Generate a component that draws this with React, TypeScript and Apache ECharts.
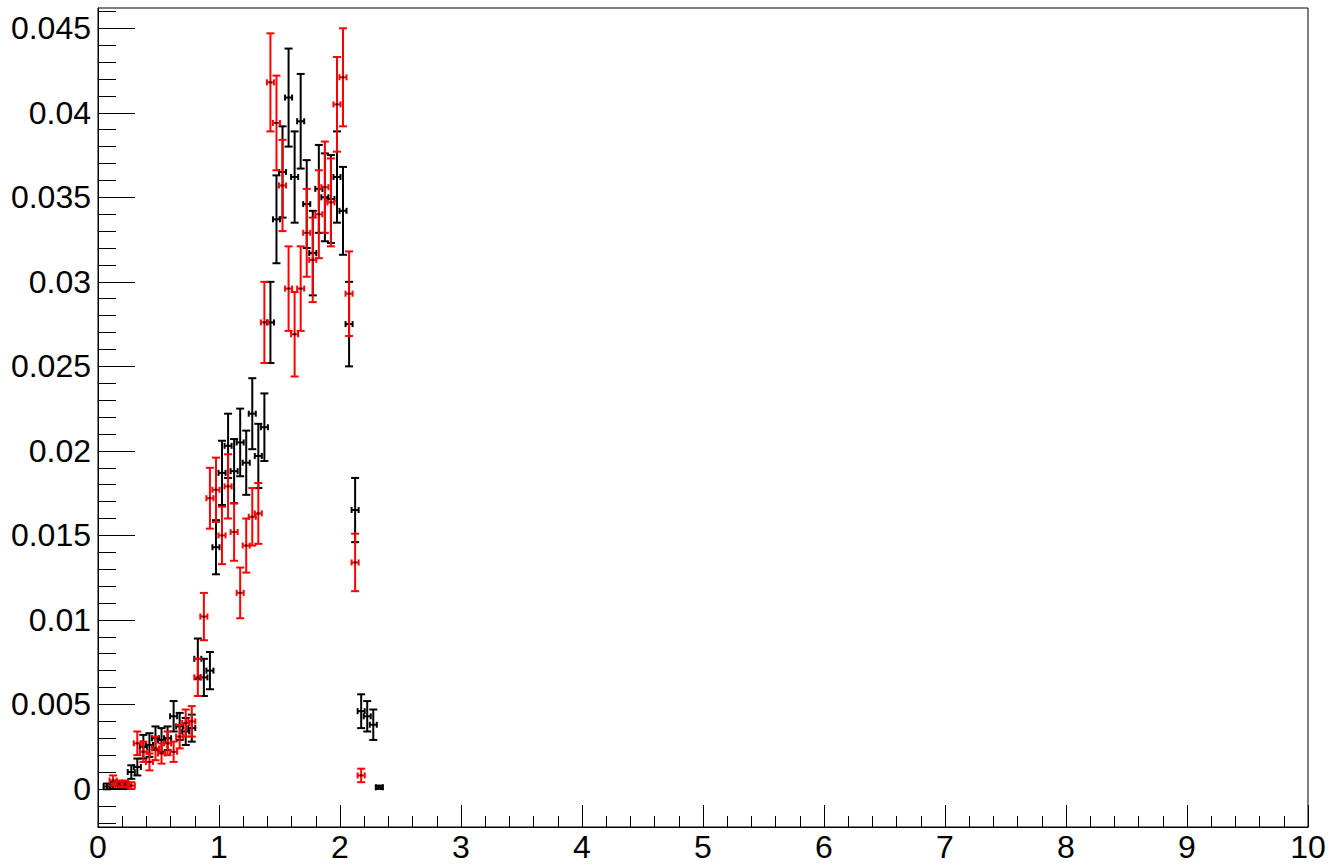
import React, { useEffect, useRef } from "react";
import * as echarts from "echarts";

// ---- data ----
const BIN_HALF = 0.025;

const blackX = [0.075,0.125,0.175,0.225,0.275,0.325,0.375,0.425,0.475,0.525,0.575,0.625,0.675,0.725,0.775,0.825,0.875,0.925,0.975,1.025,1.075,1.125,1.175,1.225,1.275,1.325,1.375,1.425,1.475,1.525,1.575,1.625,1.675,1.725,1.775,1.825,1.875,1.925,1.975,2.025,2.075,2.125,2.175,2.225,2.275,2.325];
const blackY = [0.00015,0.0002,0.0002,0.0002,0.0010,0.0013,0.0025,0.0026,0.0030,0.0029,0.0030,0.0043,0.0037,0.0034,0.0036,0.0077,0.0066,0.0070,0.0143,0.0187,0.0203,0.0188,0.0205,0.0193,0.0222,0.0197,0.0214,0.0276,0.0337,0.0365,0.0409,0.0362,0.0395,0.0346,0.0317,0.0355,0.0350,0.0349,0.0362,0.0342,0.0275,0.0165,0.0046,0.0043,0.0038,0.0001];
const blackErr = [0.00017,0.0002,0.0002,0.0002,0.0004,0.0005,0.0007,0.0007,0.0007,0.0007,0.0007,0.0009,0.0008,0.0008,0.0008,0.0012,0.0011,0.0011,0.0016,0.0019,0.0019,0.0019,0.0020,0.0019,0.0021,0.0019,0.0020,0.0024,0.0026,0.0027,0.0029,0.0027,0.0028,0.0026,0.0025,0.0026,0.0026,0.0026,0.0027,0.0026,0.0025,0.0019,0.0010,0.0009,0.0009,0.0001];

const redX = [0.125,0.175,0.225,0.275,0.325,0.375,0.425,0.475,0.525,0.575,0.625,0.675,0.725,0.775,0.825,0.875,0.925,0.975,1.025,1.075,1.125,1.175,1.225,1.275,1.325,1.375,1.425,1.475,1.525,1.575,1.625,1.675,1.725,1.775,1.825,1.875,1.925,1.975,2.025,2.075,2.125,2.175];
const redY = [0.0005,0.0003,0.0003,0.0002,0.0027,0.0022,0.0016,0.0024,0.0021,0.0027,0.0022,0.0031,0.0039,0.0040,0.0066,0.0102,0.0172,0.0177,0.0150,0.0179,0.0152,0.0116,0.0144,0.0161,0.0163,0.0276,0.0418,0.0394,0.0357,0.0296,0.0269,0.0296,0.0329,0.0313,0.0340,0.0356,0.0347,0.0405,0.0421,0.0293,0.0134,0.0008];
const redErr = [0.0003,0.0002,0.0002,0.0002,0.0007,0.0006,0.0005,0.0007,0.0006,0.0007,0.0006,0.0007,0.0008,0.0009,0.0011,0.0014,0.0018,0.0019,0.0017,0.0019,0.0017,0.0015,0.0016,0.0017,0.0018,0.0024,0.0029,0.0028,0.0027,0.0025,0.0025,0.0025,0.0026,0.0025,0.0026,0.0027,0.0026,0.0028,0.0029,0.0025,0.0017,0.0004];

const yMajorTicks = [0, 0.005, 0.01, 0.015, 0.02, 0.025, 0.03, 0.035, 0.04, 0.045];
const yMajorLabels = ["0", "0.005", "0.01", "0.015", "0.02", "0.025", "0.03", "0.035", "0.04", "0.045"];
const xTickLabels = ["0", "1", "2", "3", "4", "5", "6", "7", "8", "9", "10"];

const Y_MIN = -0.00225;
const Y_MAX = 0.0462;

// minor y ticks: 4 between each pair of majors (plus below 0 / above top)
const yMinorTicks: number[] = [];
for (let i = -2; i <= 46; i++) {
  if (i % 5 !== 0) yMinorTicks.push(Math.round(i * 1e6) / 1e9);
}

function makeErrSeries(xs: number[], ys: number[], es: number[], color: string) {
  const data = xs.map((x, i) => [x, ys[i], es[i]]);
  return {
    type: "custom",
    xAxisIndex: 0,
    yAxisIndex: 0,
    encode: { x: 0, y: 1 },
    data,
    renderItem: (params: any, api: any) => {
      const x = api.value(0);
      const y = api.value(1);
      const e = api.value(2);
      const c = api.coord([x, y]);
      const l = api.coord([x - BIN_HALF, y]);
      const r = api.coord([x + BIN_HALF, y]);
      const t = api.coord([x, y + e]);
      const b = api.coord([x, y - e]);
      const st = { stroke: color, lineWidth: 2, fill: null };
      const capW = 4;
      const capH = 3;
      return {
        type: "group",
        children: [
          { type: "line", shape: { x1: c[0], y1: t[1], x2: c[0], y2: b[1] }, style: st },
          { type: "line", shape: { x1: c[0] - capW, y1: t[1], x2: c[0] + capW, y2: t[1] }, style: st },
          { type: "line", shape: { x1: c[0] - capW, y1: b[1], x2: c[0] + capW, y2: b[1] }, style: st },
          { type: "line", shape: { x1: l[0] - 0.5, y1: c[1], x2: r[0] + 0.5, y2: c[1] }, style: st },
          { type: "line", shape: { x1: l[0] - 0.5, y1: c[1] - capH, x2: l[0] - 0.5, y2: c[1] + capH }, style: st },
          { type: "line", shape: { x1: r[0] + 0.5, y1: c[1] - capH, x2: r[0] + 0.5, y2: c[1] + capH }, style: st },
          { type: "rect", shape: { x: c[0] - 1, y: c[1] - 1, width: 2, height: 2 }, style: { fill: "#000" } },
        ],
      };
    },
  };
}

export default function App() {
  const ref = useRef<HTMLDivElement>(null);
  useEffect(() => {
    document.body.style.margin = "0";
    if (!ref.current) return;
    const chart = echarts.init(ref.current, null, { renderer: "svg" });
    const font = "'Liberation Sans', Arial, Helvetica, sans-serif";
    chart.setOption({
      animation: false,
      backgroundColor: "#fff",
      grid: {
        left: 98,
        right: 21,
        top: 8,
        bottom: 38,
        show: true,
        borderColor: "#000",
        borderWidth: 1,
        backgroundColor: "transparent",
      },
      xAxis: {
        type: "value",
        min: 0,
        max: 10,
        interval: 1,
        axisLine: { show: true, onZero: false, lineStyle: { color: "#000", width: 1 } },
        axisTick: { show: true, inside: true, length: 22, lineStyle: { color: "#000", width: 1 } },
        minorTick: { show: true, splitNumber: 5, length: 11, lineStyle: { color: "#000", width: 1 } },
        splitLine: { show: false },
        minorSplitLine: { show: false },
        axisLabel: {
          show: true,
          color: "#000",
          fontSize: 32,
          fontFamily: font,
          margin: 4,
          showMinLabel: true,
          showMaxLabel: true,
          formatter: (v: number) => xTickLabels[Math.round(v)] ?? String(v),
        },
      },
      yAxis: [
        {
          type: "value",
          min: Y_MIN,
          max: Y_MAX,
          position: "left",
          axisLine: { show: true, onZero: false, lineStyle: { color: "#000", width: 1 } },
          axisTick: { show: true, inside: true, length: 37, customValues: yMajorTicks, lineStyle: { color: "#000", width: 1 } },
          splitLine: { show: false },
          axisLabel: {
            show: true,
            color: "#000",
            fontSize: 32,
            fontFamily: font,
            margin: 7,
            customValues: yMajorTicks,
            formatter: (v: number) => {
              const i = yMajorTicks.findIndex((t) => Math.abs(t - v) < 1e-9);
              return i >= 0 ? yMajorLabels[i] : "";
            },
          },
        },
        {
          type: "value",
          min: Y_MIN,
          max: Y_MAX,
          position: "left",
          offset: 0,
          axisLine: { show: false },
          axisTick: { show: true, inside: true, length: 18, customValues: yMinorTicks, lineStyle: { color: "#000", width: 1 } },
          splitLine: { show: false },
          axisLabel: { show: false },
        },
      ],
      series: [
        makeErrSeries(blackX, blackY, blackErr, "#000000"),
        makeErrSeries(redX, redY, redErr, "#ff0000"),
      ],
    });
    return () => chart.dispose();
  }, []);
  return <div ref={ref} style={{ width: 1329, height: 865 }} />;
}
